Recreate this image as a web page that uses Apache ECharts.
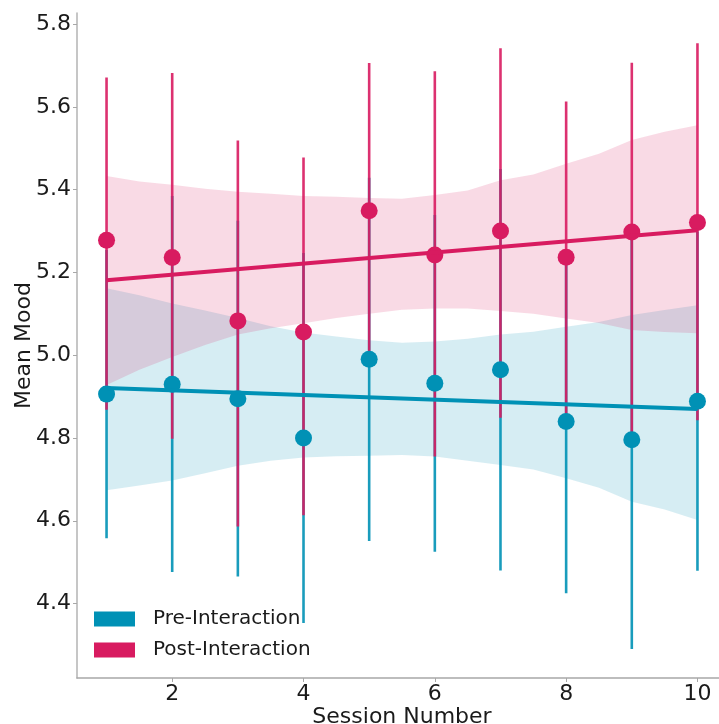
<!DOCTYPE html>
<html>
<head>
<meta charset="utf-8">
<script src="https://cdn.jsdelivr.net/npm/echarts@6/dist/echarts.min.js"></script>
<style>html,body{margin:0;padding:0;background:#fff;}#c{width:719px;height:724px;}</style>
</head>
<body>
<div id="c"></div>
<script>
// ---- data ----
var sessions = [1, 2, 3, 4, 5, 6, 7, 8, 9, 10];
var preMean = [4.906, 4.930, 4.895, 4.800, 4.990, 4.932, 4.965, 4.840, 4.796, 4.889];
var preLow  = [4.558, 4.476, 4.465, 4.353, 4.551, 4.525, 4.480, 4.425, 4.290, 4.479];
var preHigh = [5.254, 5.385, 5.325, 5.247, 5.429, 5.339, 5.450, 5.255, 5.302, 5.299];
var postMean = [5.278, 5.236, 5.083, 5.056, 5.349, 5.242, 5.300, 5.237, 5.298, 5.321];
var postLow  = [4.868, 4.798, 4.586, 4.613, 5.000, 4.755, 4.849, 4.840, 4.807, 4.843];
var postHigh = [5.671, 5.682, 5.519, 5.478, 5.706, 5.686, 5.742, 5.613, 5.707, 5.754];
var fitX = [1, 10];
var preFit = [4.921, 4.870];
var postFit = [5.181, 5.302];
var bandX = [1, 1.5, 2, 2.5, 3, 3.5, 4, 4.5, 5, 5.5, 6, 6.5, 7, 7.5, 8, 8.5, 9, 9.5, 10];
var preBandHi = [5.162, 5.145, 5.125, 5.108, 5.090, 5.070, 5.055, 5.045, 5.036, 5.030, 5.033, 5.040, 5.050, 5.057, 5.069, 5.080, 5.097, 5.109, 5.121];
var preBandLo = [4.674, 4.685, 4.697, 4.715, 4.733, 4.745, 4.753, 4.756, 4.757, 4.759, 4.755, 4.745, 4.735, 4.724, 4.703, 4.680, 4.646, 4.627, 4.602];
var postBandHi = [5.433, 5.420, 5.412, 5.402, 5.395, 5.390, 5.385, 5.383, 5.380, 5.378, 5.387, 5.398, 5.423, 5.437, 5.463, 5.487, 5.520, 5.540, 5.556];
var postBandLo = [4.928, 4.965, 4.996, 5.025, 5.050, 5.065, 5.077, 5.090, 5.100, 5.110, 5.113, 5.113, 5.107, 5.100, 5.089, 5.078, 5.061, 5.056, 5.053];
var xTicks = [2, 4, 6, 8, 10];
var yTicks = [4.4, 4.6, 4.8, 5.0, 5.2, 5.4, 5.6, 5.8];
var seriesNames = ['Pre-Interaction', 'Post-Interaction'];

// ---- style ----
var BLUE = '#0091b5', PINK = '#d81b60';
var FONT = 'DejaVu Sans';

function rows3(a, b, c) { return a.map(function (v, i) { return [v, b[i], c[i]]; }); }
function pairs(a, b) { return a.map(function (v, i) { return [v, b[i]]; }); }

function bandSeries(lo, hi, color) {
  return {
    type: 'custom', silent: true, clip: false,
    data: rows3(bandX, lo, hi),
    encode: { x: 0, y: [1, 2] },
    renderItem: function (params, api) {
      if (params.dataIndex !== 0) return;
      var pts = [];
      for (var i = 0; i < bandX.length; i++) pts.push(api.coord([bandX[i], hi[i]]));
      for (var j = bandX.length - 1; j >= 0; j--) pts.push(api.coord([bandX[j], lo[j]]));
      return { type: 'polygon', shape: { points: pts }, style: { fill: color, opacity: 0.16 } };
    }
  };
}
function errSeries(lo, hi, color) {
  return {
    type: 'custom', silent: true, clip: false,
    data: rows3(sessions, lo, hi),
    encode: { x: 0, y: [1, 2] },
    renderItem: function (params, api) {
      var a = api.coord([api.value(0), api.value(1)]);
      var b = api.coord([api.value(0), api.value(2)]);
      return { type: 'line', shape: { x1: a[0], y1: a[1], x2: b[0], y2: b[1] },
               style: { stroke: color, lineWidth: 2.6, opacity: 0.9 } };
    }
  };
}
function fitSeries(vals, color) {
  return { type: 'line', silent: true, data: pairs(fitX, vals), symbol: 'none',
           lineStyle: { color: color, width: 4 } };
}
function ptSeries(name, vals, color) {
  return { name: name, type: 'scatter', data: pairs(sessions, vals), symbolSize: 17,
           itemStyle: { color: color, opacity: 1 } };
}

var chart = echarts.init(document.getElementById('c'), null, { renderer: 'canvas' });
chart.setOption({
  animation: false,
  backgroundColor: '#ffffff',
  grid: { left: 77, top: 13, right: -8, bottom: 46, containLabel: false, outerBoundsMode: 'none' },
  legend: {
    orient: 'vertical', left: 89, top: 603, icon: 'rect',
    itemWidth: 41, itemHeight: 15, itemGap: 9,
    data: seriesNames,
    textStyle: { fontFamily: FONT, fontSize: 20, color: '#1a1a1a', padding: [0, 0, 0, 13], lineHeight: 22 },
    selectedMode: false
  },
  xAxis: {
    type: 'value', min: 0.55, max: 10.45,
    name: 'Session Number', nameLocation: 'middle', nameGap: 28, nameMoveOverlap: false,
    nameTextStyle: { fontFamily: FONT, fontSize: 22, color: '#1a1a1a' },
    axisLine: { show: true, lineStyle: { color: '#a8a8a8', width: 1.6 } },
    axisTick: { show: true, length: 4, lineStyle: { color: '#a8a8a8' }, customValues: xTicks },
    axisLabel: { fontFamily: FONT, fontSize: 22, color: '#1a1a1a', margin: 5, customValues: xTicks },
    splitLine: { show: false }
  },
  yAxis: {
    type: 'value', min: 4.22, max: 5.827,
    name: 'Mean Mood', nameLocation: 'middle', nameGap: 42, nameRotate: 90, nameMoveOverlap: false,
    nameTextStyle: { fontFamily: FONT, fontSize: 22, color: '#1a1a1a' },
    axisLine: { show: true, lineStyle: { color: '#b8b8b8', width: 1.6 } },
    axisTick: { show: true, length: 4, lineStyle: { color: '#a8a8a8' }, customValues: yTicks },
    axisLabel: { fontFamily: FONT, fontSize: 22, color: '#1a1a1a', margin: 6, customValues: yTicks,
                 formatter: function (v) { return v.toFixed(1); } },
    splitLine: { show: false }
  },
  series: [
    bandSeries(preBandLo, preBandHi, BLUE),
    fitSeries(preFit, BLUE),
    bandSeries(postBandLo, postBandHi, PINK),
    fitSeries(postFit, PINK),
    errSeries(preLow, preHigh, BLUE),
    ptSeries(seriesNames[0], preMean, BLUE),
    errSeries(postLow, postHigh, PINK),
    ptSeries(seriesNames[1], postMean, PINK)
  ]
});
</script>
</body>
</html>
